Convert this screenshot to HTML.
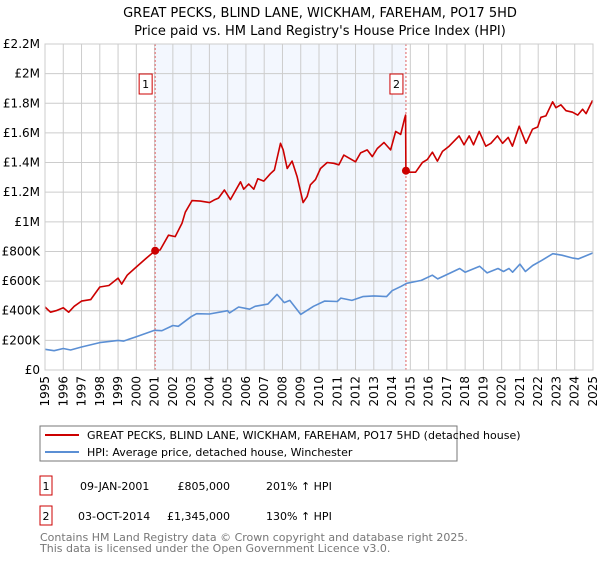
<!DOCTYPE html>
<html><head><meta charset="utf-8"><style>
body{margin:0;background:#fff;font-family:"DejaVu Sans","Liberation Sans",sans-serif;}
svg text{font-family:"DejaVu Sans","Liberation Sans",sans-serif;}
</style></head><body>
<svg id="c" width="600" height="560" xmlns="http://www.w3.org/2000/svg">
<text x="320" y="17" text-anchor="middle" font-size="13" fill="#000">GREAT PECKS, BLIND LANE, WICKHAM, FAREHAM, PO17 5HD</text>
<text x="320" y="35" text-anchor="middle" font-size="13" fill="#000">Price paid vs. HM Land Registry's House Price Index (HPI)</text>
<g id="plot"></g>
<rect x="40" y="426" width="417" height="35" fill="#fff" stroke="#777"/>
<line x1="45" y1="435" x2="79" y2="435" stroke="#cc0000" stroke-width="2"/>
<text x="87" y="439" font-size="11">GREAT PECKS, BLIND LANE, WICKHAM, FAREHAM, PO17 5HD (detached house)</text>
<line x1="45" y1="452" x2="79" y2="452" stroke="#5b8fd4" stroke-width="2"/>
<text x="87" y="456" font-size="11">HPI: Average price, detached house, Winchester</text>
<g>
<rect x="40" y="476" width="12" height="19" fill="#fff" stroke="#cc0000"/>
<text x="46" y="490" font-size="11" text-anchor="middle">1</text>
<text x="80" y="490" font-size="11">09-JAN-2001</text>
<text x="230" y="490" font-size="11" text-anchor="end">£805,000</text>
<text x="266" y="490" font-size="11">201% ↑ HPI</text>
</g>
<g>
<rect x="40" y="506" width="12" height="19" fill="#fff" stroke="#cc0000"/>
<text x="46" y="520" font-size="11" text-anchor="middle">2</text>
<text x="78" y="520" font-size="11">03-OCT-2014</text>
<text x="230" y="520" font-size="11" text-anchor="end">£1,345,000</text>
<text x="266" y="520" font-size="11">130% ↑ HPI</text>
</g>
<text x="40" y="541" font-size="11" fill="#777">Contains HM Land Registry data © Crown copyright and database right 2025.</text>
<text x="40" y="552" font-size="11" fill="#777">This data is licensed under the Open Government Licence v3.0.</text>
</svg>
<script>
const yTicks=[0,200,400,600,800,1000,1200,1400,1600,1800,2000,2200];
const yTickLabels=["£0","£200K","£400K","£600K","£800K","£1M","£1.2M","£1.4M","£1.6M","£1.8M","£2M","£2.2M"];
const xYears=[1995,1996,1997,1998,1999,2000,2001,2002,2003,2004,2005,2006,2007,2008,2009,2010,2011,2012,2013,2014,2015,2016,2017,2018,2019,2020,2021,2022,2023,2024,2025];
const saleDates=[2001.03,2014.76];
const salePrices=[805,1345];
const saleLabels=["1","2"];
const redT=[1995,1995.3,1995.6,1996,1996.3,1996.6,1997,1997.5,1998,1998.5,1999,1999.2,1999.5,2000,2000.5,2001.03,2001.3,2001.76,2002.13,2002.5,2002.68,2003.05,2003.5,2004.01,2004.3,2004.5,2004.82,2005.15,2005.7,2005.88,2006.15,2006.43,2006.65,2006.98,2007.34,2007.56,2007.89,2008.04,2008.26,2008.53,2008.8,2009.13,2009.35,2009.53,2009.81,2010.08,2010.45,2010.81,2011.09,2011.36,2011.64,2012.0,2012.28,2012.64,2012.92,2013.19,2013.56,2013.92,2014.2,2014.47,2014.69,2014.74,2014.76,2014.84,2015.29,2015.66,2015.93,2016.21,2016.48,2016.76,2017.12,2017.67,2017.94,2018.22,2018.46,2018.77,2019.13,2019.41,2019.77,2020.05,2020.36,2020.59,2020.96,2021.33,2021.69,2021.97,2022.15,2022.42,2022.79,2022.97,2023.24,2023.52,2023.88,2024.16,2024.43,2024.62,2024.8,2024.98];
const redV=[425,390,400,420,390,430,465,475,560,570,620,580,640,695,750,805,810,910,900,990,1065,1143,1140,1130,1150,1160,1215,1150,1270,1220,1255,1220,1290,1275,1325,1350,1530,1485,1360,1410,1305,1130,1170,1250,1285,1360,1400,1395,1385,1450,1430,1405,1465,1485,1440,1495,1535,1485,1610,1590,1700,1720,1345,1335,1335,1400,1420,1470,1410,1475,1510,1580,1520,1580,1520,1610,1510,1530,1580,1530,1570,1510,1645,1530,1625,1640,1705,1715,1810,1770,1790,1750,1740,1720,1760,1730,1775,1820];
const hpiT=[1995,1995.5,1996,1996.4,1997,1998,1999,1999.3,2000,2001,2001.4,2002,2002.3,2003,2003.3,2004,2005,2005.1,2005.6,2006.2,2006.5,2007.2,2007.7,2008.1,2008.4,2009,2009.7,2010.3,2011,2011.2,2011.8,2012.4,2013,2013.7,2014,2014.5,2014.8,2015.6,2016.2,2016.5,2017.2,2017.7,2018,2018.8,2019.2,2019.8,2020.1,2020.4,2020.6,2021,2021.3,2021.7,2022.2,2022.8,2023.3,2023.9,2024.2,2024.5,2025];
const hpiV=[140,130,145,135,155,185,200,195,225,268,265,300,295,360,380,378,400,385,425,410,430,445,510,455,470,375,430,465,462,485,470,495,500,495,535,565,585,605,640,615,655,685,660,700,655,685,665,685,660,715,665,705,740,785,775,755,750,765,790];

const NS="http://www.w3.org/2000/svg";
const L=45,R=593,T=44,B=370;
const xs=t=>L+(t-1995)/(2025-1995)*(R-L);
const ys=v=>B-v/2200*(B-T);
const g=document.getElementById('plot');
function mk(tag,attrs){const e=document.createElementNS(NS,tag);for(const k in attrs)e.setAttribute(k,attrs[k]);g.appendChild(e);return e;}
const bg=mk('rect',{x:L,y:T,width:R-L,height:B-T,fill:'#fff'});


const sh=mk('rect',{x:xs(saleDates[0]),y:T,width:xs(saleDates[1])-xs(saleDates[0]),height:B-T,fill:'#eef3fd',opacity:0.7});


yTicks.forEach((v,i)=>{
 const ln=mk('line',{x1:L,x2:R,y1:ys(v),y2:ys(v),stroke:'#ccc','stroke-width':1});
 
 
 const tx=mk('text',{x:L-5,y:ys(v)+4,'text-anchor':'end','font-size':12,fill:'#000'});
 tx.textContent=yTickLabels[i];
 
 
});
xYears.forEach(yr=>{
 const ln=mk('line',{x1:xs(yr),x2:xs(yr),y1:T,y2:B,stroke:'#ccc','stroke-width':1});
 
 
 const x=xs(yr)+4,y=B+6;
 const tx=mk('text',{x:x,y:y,'text-anchor':'end','font-size':12,fill:'#000',transform:`rotate(-90 ${x} ${y})`});
 tx.textContent=yr;
 
 
});
saleDates.forEach((d,i)=>{
 const ln=mk('line',{x1:xs(d),x2:xs(d),y1:T,y2:B,stroke:'#e06060','stroke-width':1,'stroke-dasharray':'2,2'});
 
 
});
function path(ts,vs,col,name){
 let d='';ts.forEach((t,i)=>{d+=(i?'L':'M')+xs(t).toFixed(1)+','+ys(vs[i]).toFixed(1);});
 const p=mk('path',{d:d,fill:'none',stroke:col,'stroke-width':1.6,'stroke-linejoin':'round'});
 
 
}
path(hpiT,hpiV,'#5b8fd4','hpi-line');
path(redT,redV,'#cc0000','property-price-line');
saleDates.forEach((d,i)=>{
 const c=mk('circle',{cx:xs(d),cy:ys(salePrices[i]),r:4,fill:'#cc0000'});
 
 
 const bx=mk('rect',{x:xs(d)-16,y:74,width:13,height:20,fill:'#fff',stroke:'#cc0000'});
 
 
 const tx=mk('text',{x:xs(d)-9.5,y:88,'text-anchor':'middle','font-size':11,fill:'#000'});
 tx.textContent=saleLabels[i];
 
 
});
const fr=mk('rect',{x:L,y:T,width:R-L,height:B-T,fill:'none',stroke:'#ccc'});


</script>
</body></html>
